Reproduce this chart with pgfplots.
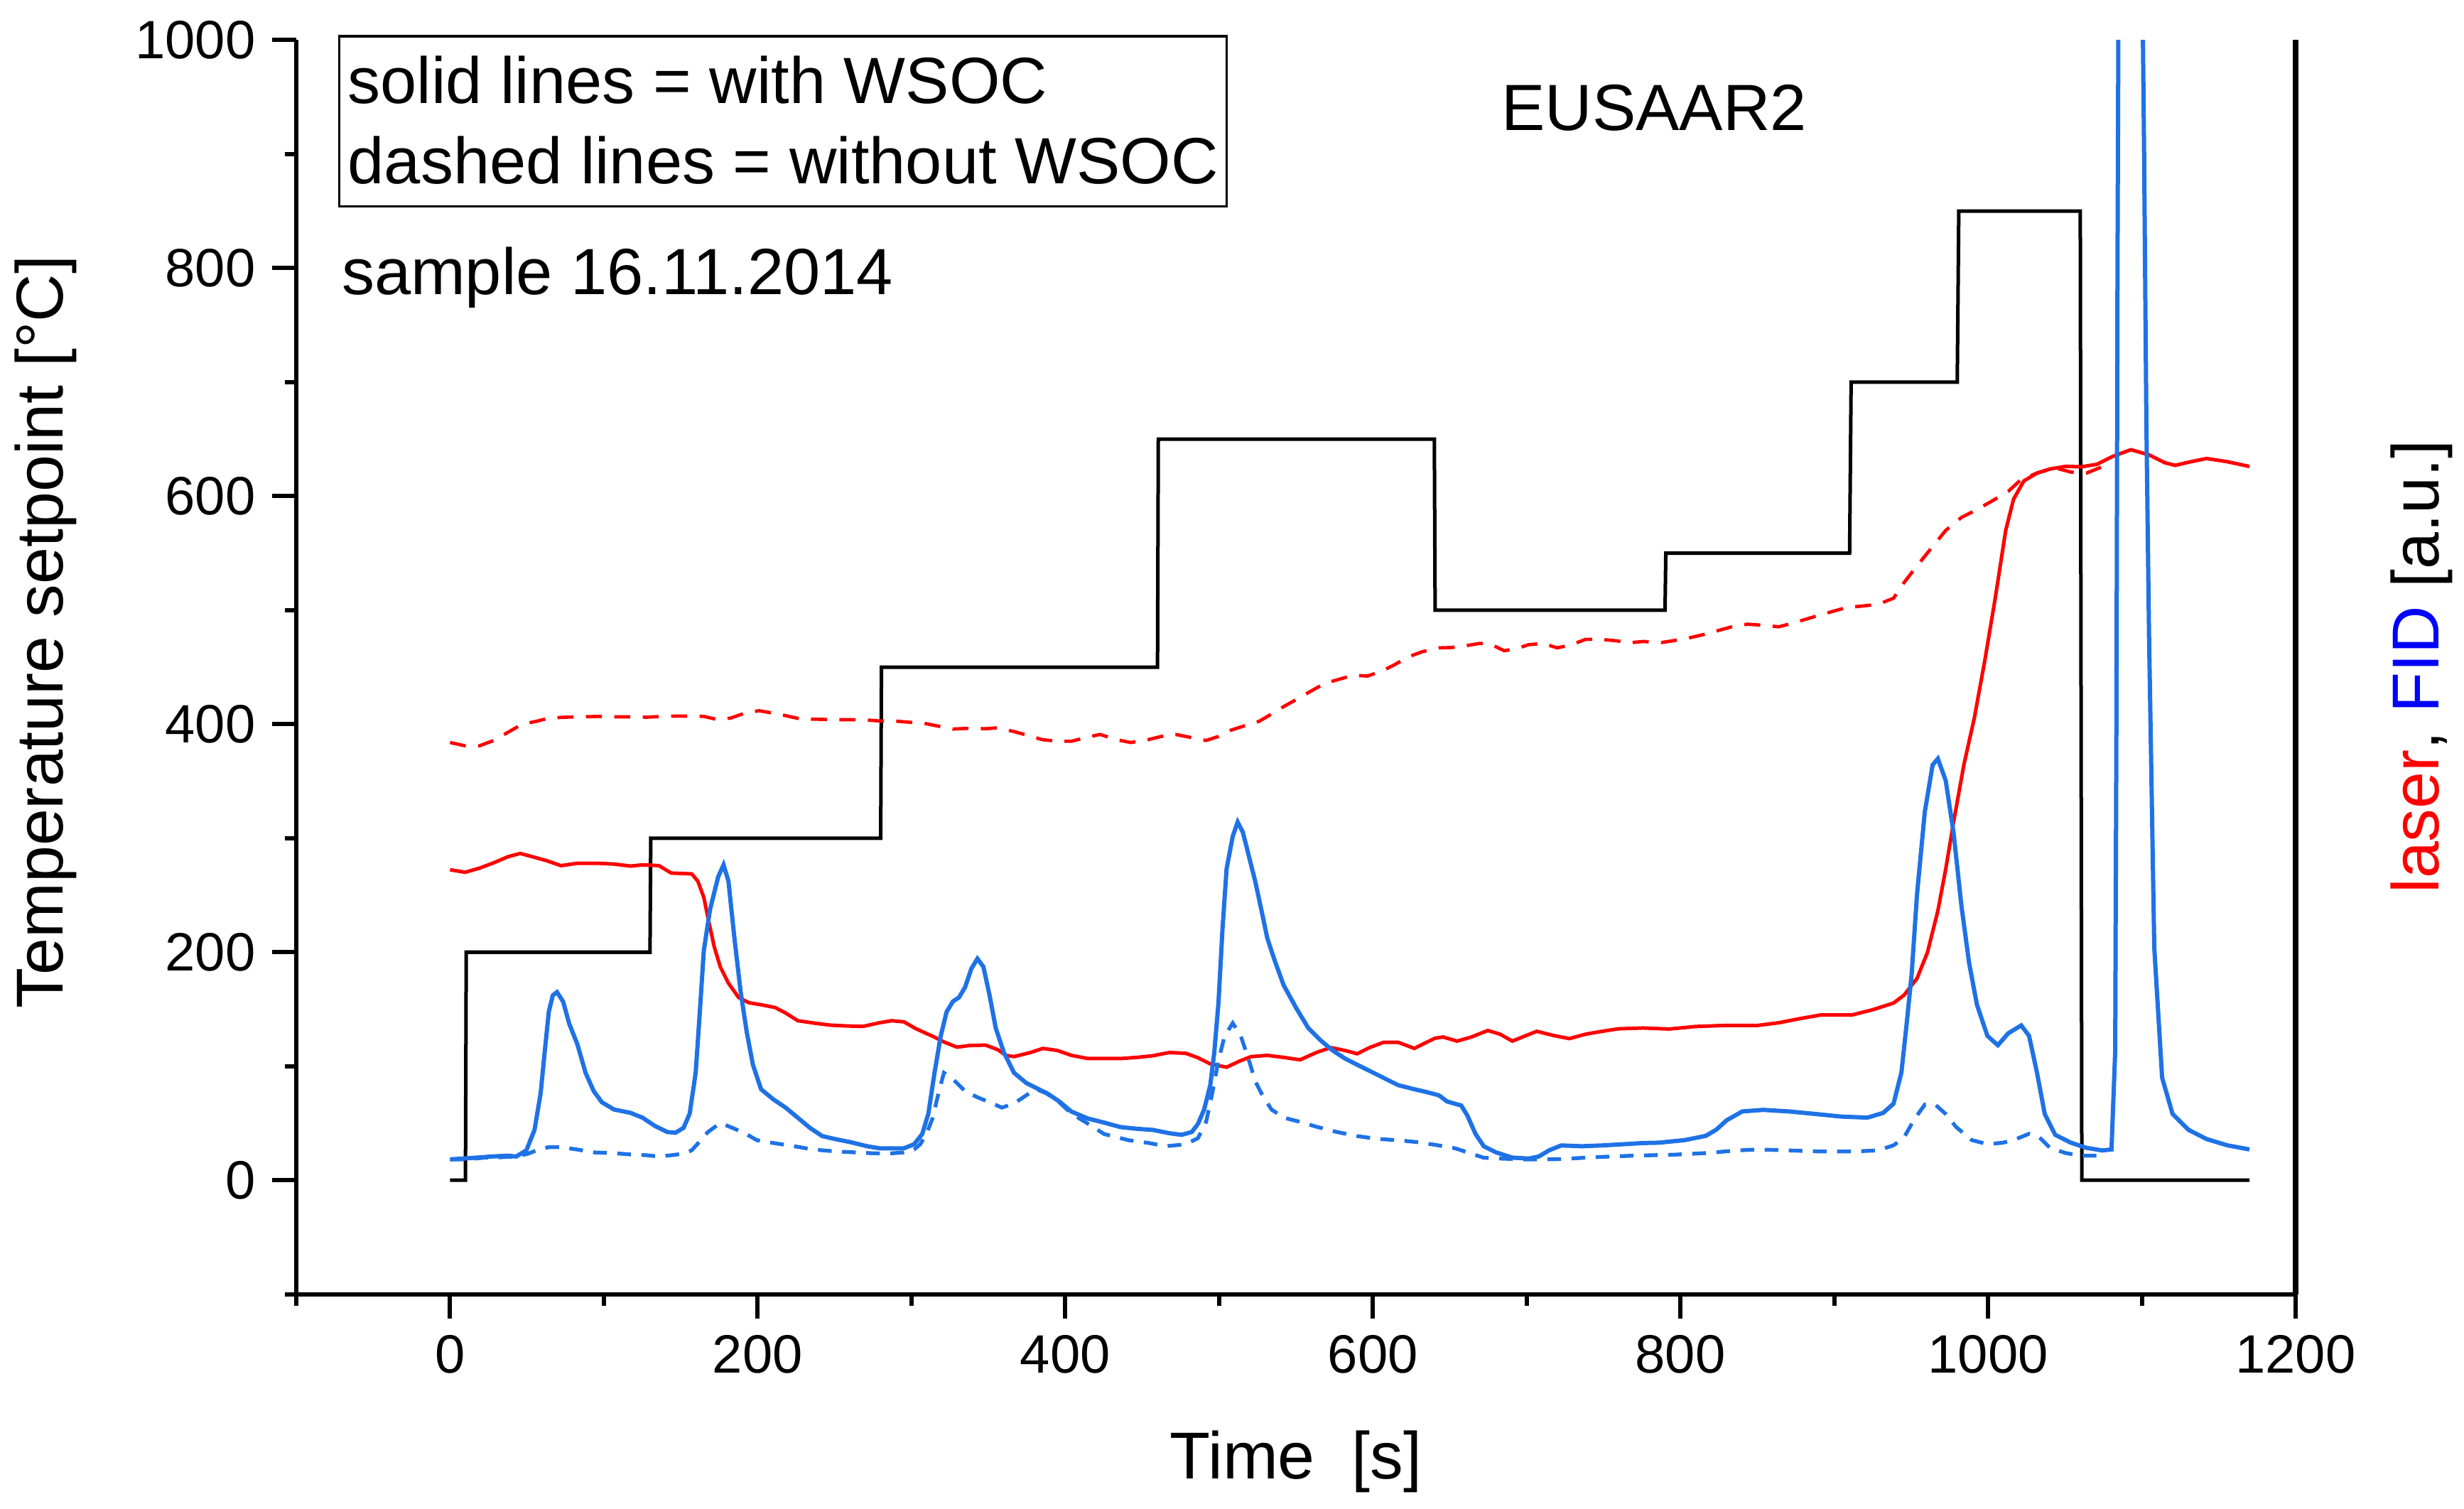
\documentclass[border=0pt]{standalone}
\usepackage{fontspec}
\setmainfont{Liberation Sans}
\usepackage{pgfplots}
\pgfplotsset{compat=1.18}
\definecolor{fidblue}{RGB}{31,114,230}
\begin{document}
\begin{tikzpicture}
\begin{axis}[
  name=ax,
  scale only axis,
  width=421.95pt, height=264.7pt,
  xmin=-100, xmax=1200, ymin=-100, ymax=1000,
  axis x line*=bottom, axis y line*=left,
  axis line style={-, line width=0.9pt},
  xtick={0,200,...,1200}, ytick={0,200,...,1000},
  minor xtick={-100,100,...,1100}, minor ytick={-100,100,...,900},
  tick align=outside,
  major tick length=5.1pt, minor tick length=2.4pt,
  every tick/.style={black, line width=0.9pt},
  tick label style={font=\fontsize{11.4}{13}\selectfont},
  /pgf/number format/assume math mode=true,
  /pgf/number format/1000 sep={},
  clip mode=individual,
]
% temperature setpoint
\addplot[black, line width=0.75pt] coordinates {(0,0)(10,0)(10.5,200)(130,200)(130.5,300)(280,300)(280.5,450)(460,450)(460.5,650)(640,650)(640.5,500)(790,500)(790.5,550)(910,550)(911,700)(980,700)(981,850)(1060,850)(1061,0)(1170,0)};
% laser with WSOC
\addplot[red, line width=0.75pt] coordinates {(0,272.3)(9.8,270.1)(19.1,273.7)(28.4,278.4)(37.6,283.7)(45.6,286.6)(53.6,283.7)(62.9,280.2)(72.1,275.9)(82.8,278)(96,278)(106.6,277.3)(117.3,275.5)(125.2,276.6)(135.8,275.9)(143.8,269.4)(157.1,268.7)(161.1,262.3)(165,248)(167.7,230.1)(171.7,205)(175.7,187.1)(181,172.8)(187.6,160.3)(194.2,155.7)(202.2,153.9)(211.5,151.4)(218.1,146.7)(226.1,139.9)(236.7,137.8)(247.3,136)(257.9,135.3)(268.5,134.9)(279.2,138.1)(287.1,139.9)(295.1,138.9)(303,132.8)(313.7,126.3)(321.6,121)(329.6,116.7)(337.5,118.1)(348.2,118.5)(356.1,114.5)(361.4,109.5)(366.7,108.4)(377.4,112)(385.5,115.6)(394.8,113.8)(404,109.5)(414.7,106.7)(425.3,106.7)(435.9,106.7)(446.5,107.7)(457.1,109.2)(467.7,112)(478.4,111.3)(486.3,107.4)(494.3,102)(504.9,99.1)(512.9,104.2)(520.8,108.4)(531.4,109.5)(542.1,107.7)(552.7,105.6)(563.3,112)(572.6,116.3)(581.9,113.8)(589.8,110.9)(597.8,116.3)(607.1,121)(616.4,121)(627,115.6)(632.3,119.2)(640.3,124.5)(645.6,125.6)(654.8,122)(664.1,125.6)(674.7,131.3)(682.7,128.1)(690.7,122)(698.6,126.3)(706.6,130.6)(717.2,127)(727.8,124.2)(738.4,128.1)(749.1,130.6)(759.7,132.8)(775.6,133.5)(792.8,132.6)(809.7,134.8)(830.1,135.8)(850.4,135.8)(864,138.1)(877.5,141.7)(891.1,144.9)(911.4,144.9)(925,149.5)(938.6,155.4)(945.4,162.3)(953.8,176.9)(960.6,199.7)(967.4,236.3)(972.5,272.9)(977.6,314)(984.3,364.3)(991.1,405.4)(997.9,455.7)(1004.7,510.5)(1011.5,569.9)(1016.6,597.3)(1023.3,613.3)(1031.8,620.2)(1040.3,623.8)(1050.5,626.1)(1060.6,625.7)(1070.8,627.9)(1081,634.8)(1092.9,640.7)(1104.7,636.2)(1114.9,629.3)(1121.7,627)(1131.9,630.2)(1142.1,633)(1155.6,630.2)(1170,626)};
% laser without WSOC
\addplot[red, line width=0.7pt, dash pattern=on 3.4pt off 2.6pt] coordinates {(0,383.9)(9.8,381)(19.1,381)(28.4,385.7)(37.6,392.8)(46.9,400)(56.2,402.5)(64.2,405.3)(74.8,406.1)(85.4,406.4)(96,406.8)(106.6,406.4)(117.3,406.4)(127.9,406.1)(138.5,406.8)(149.1,407.1)(165,406.8)(173,404.3)(182.3,405.3)(191.6,409.6)(200.9,411.8)(210.2,409.6)(219.4,407.1)(228.7,404.3)(239.3,404.3)(250,403.9)(260.6,403.9)(271.2,403.6)(279.2,402.8)(288.5,402.8)(297.7,401.8)(308.4,400.7)(317.6,398.2)(326.9,395.7)(337.5,396.4)(348.2,396)(356.1,396.8)(366.7,393.5)(376,390)(385.3,386.4)(394.8,385)(404,385)(413.3,388.2)(422.6,391)(433.2,386.4)(442.5,383.9)(451.8,385.7)(462.4,389.2)(471.7,391)(481,388.5)(491.6,385.7)(499.6,389.2)(507.5,394.6)(518.2,399.3)(526.1,402.5)(534.1,408.9)(542,415.4)(550,421.4)(559.3,428.6)(568.6,435.7)(577.9,439.3)(587.2,442.9)(596.5,442.2)(605.7,446.5)(613.7,451.8)(623,459)(632.3,463.6)(642.9,466.9)(650.9,467.2)(660.1,468.7)(669.4,470.8)(676.1,470.4)(685.4,464.4)(693.3,466.2)(701.3,469.7)(710.6,470.8)(719.9,466.9)(729.2,469.7)(738.4,474.4)(747.7,474.4)(757,473.3)(767.6,471.5)(775.7,472.5)(787.7,471.6)(802.9,474.8)(814.8,478.5)(833.4,485.4)(843.6,487.7)(853.8,486.7)(864,485.4)(874.1,489)(891.1,495.9)(908,502.3)(918.2,503.6)(928.4,505)(938.6,510.5)(945.4,524.2)(953.8,538.8)(962.3,553)(972.5,569.9)(982.7,581.3)(992.8,588.2)(1003,596)(1013.2,604.2)(1021.6,614.7)(1031.8,620.2)(1043.7,624.7)(1053.9,621.1)(1064,620.2)(1074.2,625.7)};
% FID with WSOC
\addplot[fidblue, line width=0.9pt] coordinates {(0,18.3)(8.4,19)(16.4,19.7)(27,20.8)(37.6,21.5)(43,20.8)(49.6,26.2)(54.9,44.1)(58.9,76.3)(61.5,112)(64.2,147.8)(66.8,162.1)(69.5,165)(73.5,156.7)(77.5,137.1)(82.8,119.2)(88.1,94.2)(93.4,78.1)(98.7,68.4)(106.6,62)(117.3,59.1)(125.2,54.8)(133.2,47.6)(141.2,42.3)(146.5,41.6)(151.8,45.9)(155.8,58.4)(159.7,94.2)(162.4,147.8)(165,201.5)(169,237.2)(174.3,265.9)(177.8,276.6)(181,262.3)(184.9,212.2)(188.9,165.7)(192.9,129.9)(196.9,101.3)(202.2,79.8)(210.2,70.9)(218.1,63.7)(226.1,54.8)(234,45.9)(242,38.7)(250,36.2)(260.6,33.3)(271.2,29.8)(279.2,28)(287.1,28)(295.1,28)(301.7,31.5)(307,40.5)(311,58.4)(315,94.2)(319,126.3)(322.9,147.8)(326.9,156.7)(330.9,160.3)(334.9,169.3)(338.9,185.4)(342.9,194.3)(346.8,187.1)(350.8,162.1)(354.8,133.5)(360.1,112)(366.7,94.2)(374.7,85.2)(382.7,79.8)(388.1,76.3)(396.1,69.1)(404,60.2)(414.7,54.1)(425.3,50.5)(435.9,46.6)(446.5,45.1)(457.1,44.1)(467.7,41.2)(475.7,39.8)(482.3,42.3)(486.3,49.4)(490.3,62)(494.3,83.4)(496.9,112)(499.6,155)(502.2,219.3)(504.9,273)(508.9,301.6)(512.1,314.1)(515.5,305.2)(519.5,283.7)(523.5,262.3)(527.5,237.2)(531.4,212.2)(536.7,190.7)(542,171.1)(550,151.4)(558,133.5)(565.9,122.8)(573.9,113.8)(581.9,106.7)(589.8,101.3)(600.4,94.2)(608.4,88.8)(616.4,83.4)(627,79.8)(635,77.3)(642.9,74.5)(648.2,69.1)(657.5,65.5)(661.5,56.6)(666.8,40.5)(672.1,29.8)(680.1,24.4)(690.7,19.8)(701.3,19)(707.9,20.8)(714.6,26.2)(722.5,30.5)(735.8,29.8)(749.1,30.5)(762.3,31.5)(775.6,32.6)(786,32.9)(802.9,35.2)(816.5,38.9)(823.3,44.3)(830.1,52.6)(840.2,60.3)(853.8,61.7)(870.8,60.3)(887.7,58.1)(904.7,55.8)(921.6,54.9)(931.8,59)(938.6,67.2)(943.7,94.6)(947,135.8)(950.4,181.5)(953.8,250)(958.9,323.1)(964,364.3)(967.4,369.7)(972.5,350.5)(977.6,304.8)(982.7,240.9)(987.7,190.6)(992.8,154)(999.6,126.6)(1006.4,118.4)(1013.2,128.9)(1021.6,135.8)(1026.7,126.6)(1031.8,94.6)(1036.9,58.1)(1043.7,39.8)(1053.9,32.9)(1064,28.4)(1074.2,26.1)(1080.3,27)(1082.7,113)(1083.5,400)(1084.2,800)(1085,1100)(1092,1600)(1100,1100)(1101.5,900)(1103,661)(1104.7,478.5)(1108.1,204.3)(1113.2,90)(1120,58.1)(1130.2,44.3)(1142.1,36.1)(1155.6,30.6)(1170,27)};
% FID without WSOC
\addplot[fidblue, line width=0.8pt, dash pattern=on 2.9pt off 2.2pt] coordinates {(0,18.3)(11.1,18.3)(21.7,19.7)(32.3,20.1)(43,20.8)(50.9,23.3)(56.2,26.2)(64.2,29)(72.1,29)(82.8,26.9)(93.4,24.4)(106.6,23.7)(117.3,22.6)(127.9,21.9)(135.8,20.8)(143.8,21.9)(151.8,23.3)(157.1,26.2)(162.4,34.1)(167.7,42.3)(175.7,50.2)(183.6,45.9)(191.6,41.2)(199.5,35.1)(210.2,32.6)(220.8,30.5)(231.4,28)(242,26.2)(252.6,25.1)(263.2,24.4)(273.9,23.7)(284.5,23.3)(295.1,24.4)(301.7,26.9)(305.7,31.5)(309.7,40.5)(313.7,54.1)(317.6,76.3)(321.1,94.2)(326.9,88.8)(334.9,78.1)(342.9,72.7)(350.8,68.4)(358.8,63.7)(366.7,67.3)(374.7,74.5)(381,80)(388,76)(396,68.5)(404,58.4)(412,51.9)(425.3,40.5)(441.2,35.1)(454.5,32.6)(465.1,29.8)(478.4,31.5)(486.3,36.9)(491.6,51.2)(495.6,76.3)(499.6,104.9)(503.6,126.3)(508.9,137.8)(514.2,126.3)(519.5,104.9)(523.5,87)(527.5,76.3)(534.1,62)(542.1,54.8)(552.7,51.2)(563.3,46.9)(576.6,42.3)(589.8,38.7)(603.1,36.2)(616.4,35.1)(629.6,33.3)(642.9,30.5)(653.5,28)(664.1,23.3)(672.1,19.7)(682.7,19)(696,18.3)(709.3,18.3)(722.5,18.5)(741.9,20.1)(769,21.5)(796.1,22.4)(816.5,23.8)(836.8,26.1)(850.4,27)(870.8,26.1)(891.1,25.2)(911.4,25.2)(928.4,26.1)(938.6,30.6)(945.4,37.5)(952.1,53.5)(958.9,66.3)(965.7,66.3)(972.5,58.1)(979.3,46.6)(989.4,35.2)(999.6,31.6)(1009.8,32.9)(1018.3,36.1)(1026.7,40.7)(1033.5,37.5)(1040.3,28.4)(1050.5,23.8)(1060.6,21.5)(1074.2,21.5)};
% right axis line
\draw[black, line width=1.2pt] (rel axis cs:1,0) -- (rel axis cs:1,1);
% annotation box
\draw[black, line width=0.5pt] (axis cs:-72,854) rectangle (axis cs:505,1003.4);
\node[anchor=base west, inner sep=0pt, font=\fontsize{13.8}{17}\selectfont] at (axis cs:-67,944.5) {solid lines = with WSOC};
\node[anchor=base west, inner sep=0pt, font=\fontsize{13.8}{17}\selectfont] at (axis cs:-67,874.2) {dashed lines = without WSOC};
\node[anchor=base west, inner sep=0pt, font=\fontsize{13.8}{17}\selectfont] at (axis cs:-71,776.9) {sample 16.11.2014};
\node[anchor=base west, inner sep=0pt, font=\fontsize{13.8}{17}\selectfont] at (axis cs:683,920.9) {EUSAAR2};
% axis labels
\node[anchor=base, inner sep=0pt, font=\fontsize{14}{17}\selectfont] at (axis cs:550,-262) {Time\ \ [s]};
\node[anchor=base, rotate=90, inner sep=0pt, font=\fontsize{14}{17}\selectfont] at (axis cs:-251.7,480.9) {Temperature setpoint [°C]};
\node[anchor=base, rotate=90, inner sep=0pt, font=\fontsize{14}{17}\selectfont] at (axis cs:1293.2,450.3) {\textcolor{red}{laser}, \textcolor{blue}{FID} [a.u.]};
\end{axis}
\pgfresetboundingbox
\path[use as bounding box] ([shift={(-62.53pt,-45.33pt)}]ax.south west) rectangle ([shift={(35.54pt,8.46pt)}]ax.north east);
\end{tikzpicture}
\end{document}
